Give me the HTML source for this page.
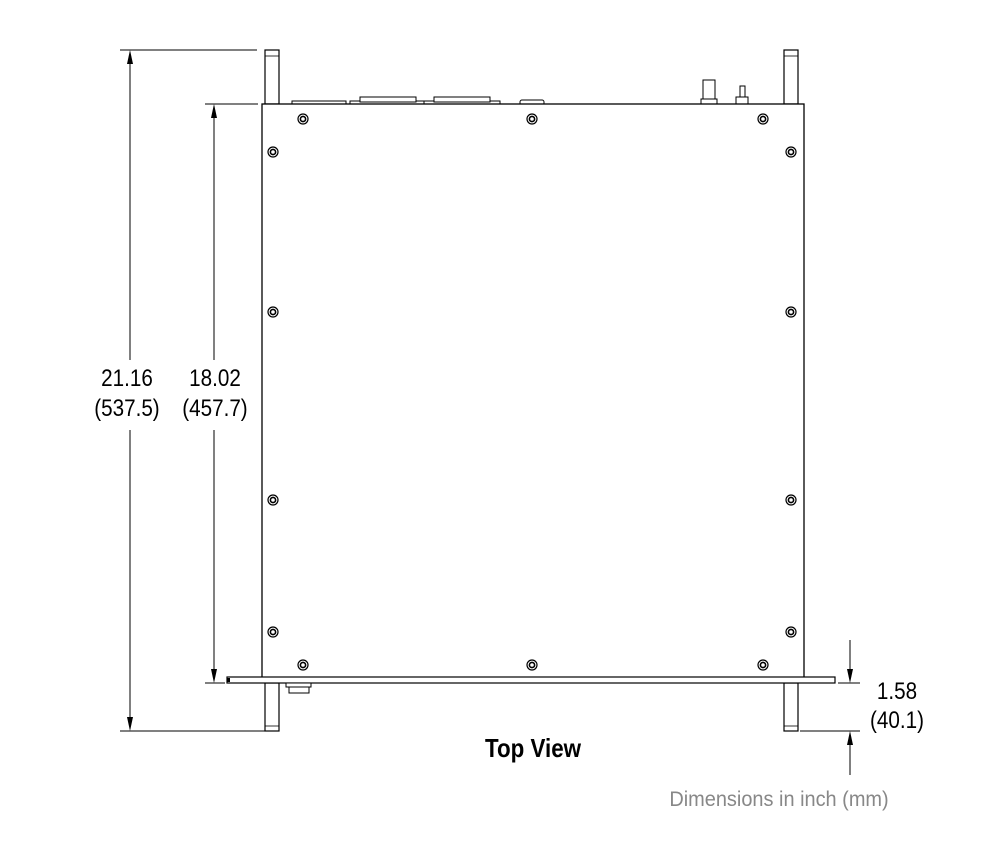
<!DOCTYPE html>
<html><head><meta charset="utf-8"><style>
html,body{margin:0;padding:0;background:#fff;}
svg{display:block;}
text{font-family:"Liberation Sans",Arial,sans-serif;}
</style></head><body>
<svg width="1003" height="847" viewBox="0 0 1003 847" xmlns="http://www.w3.org/2000/svg">
<defs>
<g id="scr"><circle r="5" fill="#fff" stroke="#000" stroke-width="1.2"/><circle r="2.6" fill="none" stroke="#000" stroke-width="1.6"/></g>
</defs>
<g stroke="#000" fill="none" stroke-width="1">
<line x1="120" y1="50" x2="257" y2="50"/>
<line x1="120" y1="731" x2="265" y2="731"/>
<line x1="130" y1="52" x2="130" y2="360"/>
<line x1="130" y1="430" x2="130" y2="729"/>
<line x1="205" y1="104" x2="258" y2="104"/>
<line x1="205" y1="683" x2="225" y2="683"/>
<line x1="214" y1="106" x2="214" y2="360"/>
<line x1="214" y1="430" x2="214" y2="681"/>
<line x1="838" y1="683" x2="860" y2="683"/>
<line x1="800" y1="731" x2="860" y2="731"/>
<line x1="850" y1="640" x2="850" y2="681"/>
<line x1="850" y1="733" x2="850" y2="775"/>
</g>
<g fill="#000">
<polygon points="130,50 127,64 133,64"/>
<polygon points="130,731 127,717 133,717"/>
<polygon points="214,104 211,118 217,118"/>
<polygon points="214,683 211,669 217,669"/>
<polygon points="850,683 847,669 853,669"/>
<polygon points="850,731 847,745 853,745"/>
</g>
<g stroke="#000" fill="#fff" stroke-width="1.2">
<rect x="265" y="50" width="14" height="54"/>
<rect x="784" y="50" width="14" height="54"/>
<rect x="265" y="683" width="14" height="48"/>
<rect x="784" y="683" width="14" height="48"/>
</g>
<g stroke="#000" stroke-width="0.8">
<line x1="265" y1="56" x2="279" y2="56"/><line x1="784" y1="56" x2="798" y2="56"/>
<line x1="265" y1="726" x2="279" y2="726"/><line x1="784" y1="726" x2="798" y2="726"/>
</g>
<g stroke="#000" fill="#fff" stroke-width="1">
<rect x="292" y="101" width="54" height="4"/>
<rect x="350" y="101" width="75" height="4"/><rect x="360" y="97" width="56" height="5"/>
<rect x="424" y="101" width="76" height="4"/><rect x="434" y="97" width="56" height="5"/>
<rect x="520" y="100" width="24" height="5" rx="2"/>
<rect x="703" y="80" width="12" height="20"/><rect x="701" y="99" width="16" height="6"/>
<rect x="740" y="86" width="5" height="12"/><rect x="736" y="97" width="12" height="8"/>
</g>
<rect x="262" y="104" width="542" height="574" fill="#fff" stroke="#000" stroke-width="1.3"/>
<rect x="227" y="677" width="608" height="6" fill="#fff" stroke="#000" stroke-width="1.2"/>
<rect x="227" y="678" width="3" height="4" fill="#000"/>
<rect x="286" y="683" width="25" height="4" fill="#fff" stroke="#000"/>
<rect x="289" y="687" width="20" height="6" fill="#fff" stroke="#000"/>
<use href="#scr" x="303" y="119"/><use href="#scr" x="532" y="119"/><use href="#scr" x="763" y="119"/>
<use href="#scr" x="273" y="152"/><use href="#scr" x="791" y="152"/>
<use href="#scr" x="273" y="312"/><use href="#scr" x="791" y="312"/>
<use href="#scr" x="273" y="500"/><use href="#scr" x="791" y="500"/>
<use href="#scr" x="273" y="632"/><use href="#scr" x="791" y="632"/>
<use href="#scr" x="303" y="665"/><use href="#scr" x="532" y="665"/><use href="#scr" x="763" y="665"/>
<g font-size="24" fill="#000" text-anchor="middle">
<text transform="translate(127,386) scale(0.86,1)">21.16</text>
<text transform="translate(127,416) scale(0.86,1)">(537.5)</text>
<text transform="translate(215,386) scale(0.86,1)">18.02</text>
<text transform="translate(215,416) scale(0.86,1)">(457.7)</text>
<text transform="translate(897,699) scale(0.86,1)">1.58</text>
<text transform="translate(897,728) scale(0.86,1)">(40.1)</text>
<text transform="translate(533,757) scale(0.86,1)" font-weight="bold" font-size="26">Top View</text>
</g>
<text transform="translate(779,806) scale(0.95,1)" font-size="21" fill="#888" text-anchor="middle">Dimensions in inch (mm)</text>
</svg>
</body></html>
